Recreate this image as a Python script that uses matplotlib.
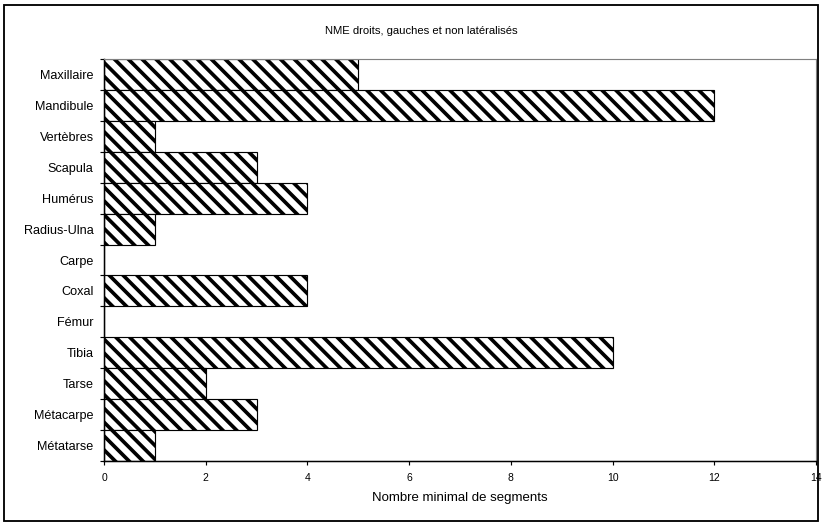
import matplotlib
matplotlib.use("Agg")
import matplotlib.pyplot as plt
import numpy as np
from matplotlib.patches import Rectangle

# NME par segment anatomique (droits, gauches et non latéralisés)
segments = ["Maxillaire", "Mandibule", "Vertèbres", "Scapula", "Humérus",
            "Radius-Ulna", "Carpe", "Coxal", "Fémur", "Tibia", "Tarse",
            "Métacarpe", "Métatarse"]
nme = [5, 12, 1, 3, 4, 1, 0, 4, 0, 10, 2, 3, 1]
xticks = [0, 2, 4, 6, 8, 10, 12, 14]

plt.rcParams["font.family"] = ["Liberation Sans", "DejaVu Sans"]
plt.rcParams["hatch.linewidth"] = 3.2
plt.rcParams["hatch.color"] = "black"

dpi = 83
fig = plt.figure(figsize=(827 / dpi, 525 / dpi), dpi=dpi)
ax = fig.add_axes([104 / 827, 1 - 461 / 525, 712 / 827, 402 / 525])

y = np.arange(len(segments))
ax.barh(y, nme, height=1.0, color="white", edgecolor="black",
        linewidth=1.0, hatch="\\\\")

ax.set_ylim(len(segments) - 0.5, -0.5)
ax.set_xlim(0, 14)

ax.set_yticks(y)
ax.set_yticklabels(segments, fontsize=11)
ax.tick_params(axis="y", which="major", length=0, pad=9)
ax.set_yticks(np.arange(len(segments) + 1) - 0.5, minor=True)
ax.tick_params(axis="y", which="minor", length=3.5, width=1, direction="out")

ax.set_xticks(xticks)
ax.set_xticklabels([str(v) for v in xticks], fontsize=9)
ax.tick_params(axis="x", length=3.5, width=1, direction="out", pad=7)

ax.set_xlabel("Nombre minimal de segments", fontsize=11.5, labelpad=8)

for side in ["top", "right"]:
    ax.spines[side].set_color("#808080")
    ax.spines[side].set_linewidth(1)
for side in ["left", "bottom"]:
    ax.spines[side].set_color("black")
    ax.spines[side].set_linewidth(1.3)

fig.text(421 / 827, 1 - 31 / 525, "NME droits, gauches et non latéralisés",
         ha="center", va="center", fontsize=9.8)

# cadre extérieur
fig.patches.append(Rectangle((4 / 827, 1 - 521 / 525), 814 / 827, 516 / 525,
                             transform=fig.transFigure, fill=False,
                             edgecolor="black", linewidth=1.6))

fig.savefig("out.png", dpi=dpi)
